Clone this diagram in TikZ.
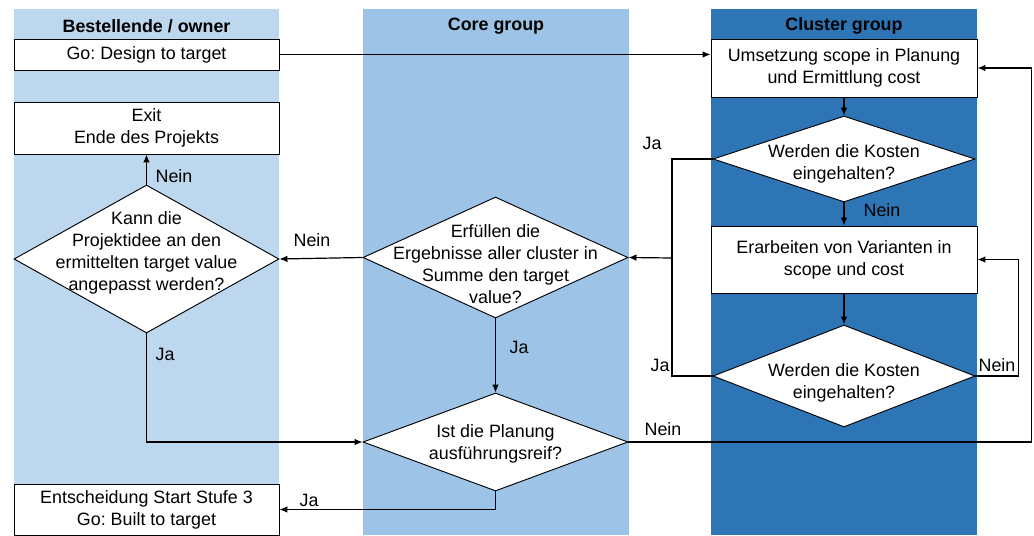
\documentclass[tikz,border=0pt]{standalone}
\usepackage{fontspec}
\setmainfont{Liberation Sans}
\usetikzlibrary{arrows.meta,shapes.geometric,calc}
\definecolor{OwnerBlue}{RGB}{189,215,238}
\definecolor{CoreBlue}{RGB}{157,195,230}
\definecolor{ClusterBlue}{RGB}{46,117,182}
\frenchspacing

\begin{document}
\begin{tikzpicture}[x=0.75pt,y=-0.75pt,>={Latex[length=6pt,width=5pt]},
    font=\fontsize{13.4}{16.5}\selectfont,
    box/.style={draw,fill=white,line width=0.7pt,minimum width=198.75pt,align=center,inner sep=0pt},
    query/.style={diamond,draw,fill=white,line width=0.7pt,inner sep=0pt,minimum width=198.75pt},
    qtext/.style={align=center,inner sep=0pt},
    flow/.style={line width=0.9pt}]
      \useasboundingbox (0,0) rectangle (1034,535);
      % lanes
      \fill[OwnerBlue] (14,9) rectangle (279,484);
      \fill[CoreBlue] (363,9) rectangle (629,535);
      \fill[ClusterBlue] (711,9) rectangle (977,535);
      \node[font=\fontsize{13.4}{16.5}\selectfont\bfseries] (hdowner) at (146.5,26) {Bestellende / owner};
      \node[font=\fontsize{13.4}{16.5}\selectfont\bfseries] (hdcore) at (496,26) {Core group};
      \node[font=\fontsize{13.4}{16.5}\selectfont\bfseries] (hdcluster) at (844,26) {Cluster group};
      % boxes
      \node[box,minimum height=23.25pt] (go) at (146.5,54.5) {Go: Design to target};
      \node[box,minimum height=39pt] (exit) at (146.5,128) {Exit\\Ende des Projekts};
      \node[box,minimum height=38.25pt] (entsch) at (146.5,509.5) {Entscheidung Start Stufe 3\\Go: Built to target};
      \node[box,minimum width=199.5pt,minimum height=43.5pt] (umsetz) at (844,68) {Umsetzung scope in Planung\\und Ermittlung cost};
      \node[box,minimum width=199.5pt,minimum height=50.25pt] (varianten) at (844,259.5) {Erarbeiten von Varianten in\\scope und cost};
      % decisions
      \node[query,minimum height=111pt,label={[qtext,yshift=4.5pt]center:Kann die\\Projektidee an den\\ermittelten target value\\angepasst werden?}] (kann) at (146.5,259) {};
      \node[query,minimum height=90.75pt,label={[qtext,yshift=-5pt]center:Erfüllen die\\Ergebnisse aller cluster in\\Summe den target\\value?}] (erfuellen) at (495.5,257.5) {};
      \node[query,minimum height=73.5pt,label={[qtext,yshift=-1.5pt]center:Ist die Planung\\ausführungsreif?}] (ist) at (495.5,442) {};
      \node[query,minimum width=196.5pt,minimum height=64.5pt,label={[qtext,yshift=-4pt]center:Werden die Kosten\\eingehalten?}] (kosten1) at (844,159) {};
      \node[query,minimum width=196.5pt,minimum height=76.5pt,label={[qtext,yshift=-5.5pt]center:Werden die Kosten\\eingehalten?}] (kosten2) at (844,376) {};
      % connectors
      \coordinate (jaknot) at (672,258);
      \draw[flow,->] (go.east) -- (go.east -| umsetz.west);
      \draw[flow,->] (umsetz.south) -- (kosten1.north);
      \draw[flow,->] (kosten1.south) -- (varianten.north);
      \draw[flow,->] (varianten.south) -- (kosten2.north);
      \draw[flow] (kosten1.west) -| (jaknot);
      \draw[flow] (kosten2.west) -| (jaknot);
      \draw[flow,->] (jaknot) -- (erfuellen.east);
      \draw[flow,->] (kosten2.east) -- ++(43,0) |- (varianten.east);
      \draw[flow,->] (erfuellen.west) -- (kann.east);
      \draw[flow,->] (erfuellen.south) -- (ist.north);
      \draw[flow,->] (kann.north) -- (exit.south);
      \draw[flow,->] (kann.south) |- (ist.west);
      \draw[flow,->] (ist.east) -- ++(403,0) |- (umsetz.east);
      \draw[flow,->] (ist.south) |- (entsch.east);
      % labels
      \node (lbexit) at (174,176) {Nein};
      \node (lbkann) at (312,240) {Nein};
      \node (lbkannja) at (165,354) {Ja};
      \node (lberfja) at (519,347) {Ja};
      \node (lbk1ja) at (652,143) {Ja};
      \node (lbk1nein) at (882,210) {Nein};
      \node (lbk2ja) at (660,365) {Ja};
      \node (lbk2nein) at (997,365) {Nein};
      \node (lbistnein) at (663,429) {Nein};
      \node (lbistja) at (309,500) {Ja};
    \end{tikzpicture}
\end{document}
